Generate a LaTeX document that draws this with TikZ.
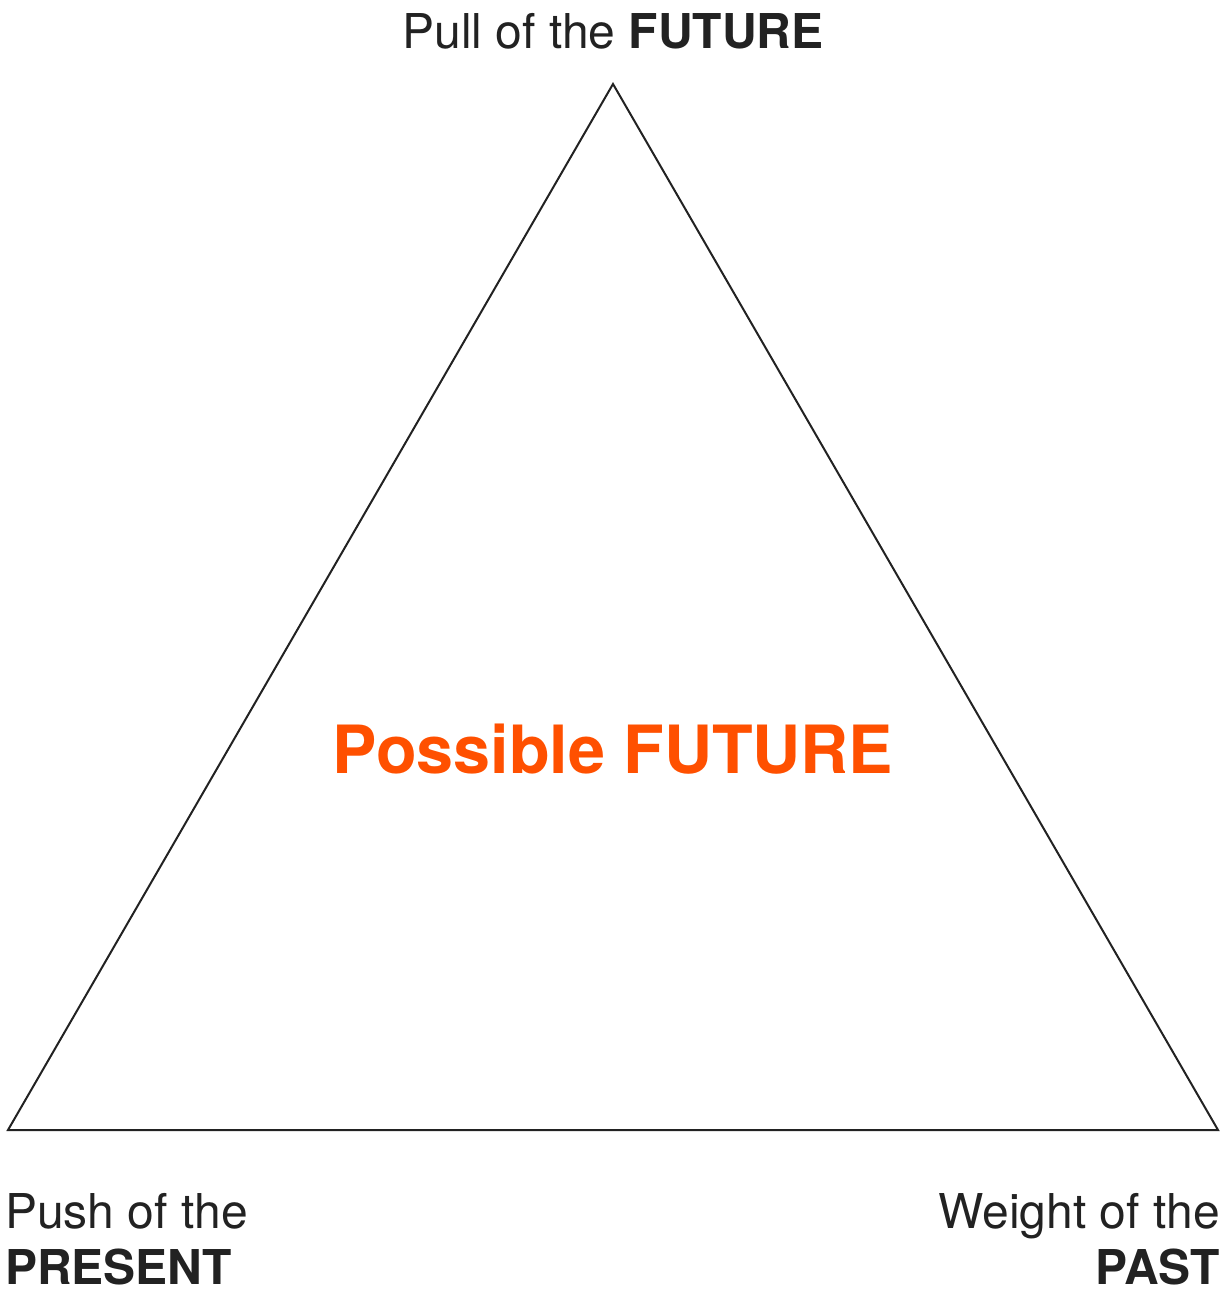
\documentclass[tikz,border=0pt]{standalone}
\usepackage{fontspec}
\setmainfont{TeX Gyre Heros}
\usetikzlibrary{positioning}
\definecolor{inkgray}{HTML}{222222}
\definecolor{futureorange}{HTML}{FF5000}
\tikzset{
  label/.style={inner sep=0pt,text=inkgray,font=\fontsize{48}{57}\selectfont},
  center/.style={inner sep=0pt,text=futureorange,font=\fontsize{66.5}{80}\selectfont\bfseries}
}
\begin{document}
\begin{tikzpicture}
        [x=1pt,y=-1pt]
        \useasboundingbox (0,0) rectangle (1229,1289);

        \coordinate (F) at (613,84);
        \coordinate (PR) at (8,1130);
        \coordinate (PA) at (1218,1130);

        \draw[line width=2pt,color=inkgray,line join=miter] (F) -- (PA) -- (PR) -- cycle;

        \node[label,anchor=base] (pull) at (613,49) {Pull of the \textbf{FUTURE}};
        \node[center,anchor=base] (possible) at (613,773) {Possible FUTURE};

        \node[label,anchor=base west] (push) at (5,1228) {Push of the};
        \node[label,anchor=base west] (present) at (5,1284) {\textbf{PRESENT}};

        \node[label,anchor=base east] (weight) at (1220,1228) {Weight of the};
        \node[label,anchor=base east] (past) at (1220,1284) {\textbf{PAST}};
      \end{tikzpicture}
\end{document}
